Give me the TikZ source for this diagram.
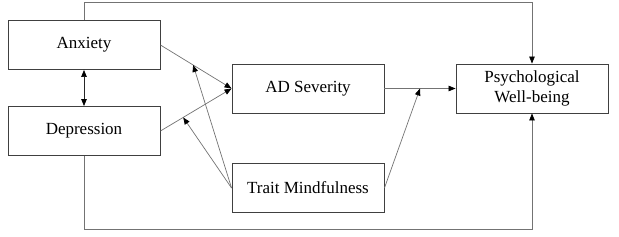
\documentclass[tikz,border=0pt]{standalone}
\usepackage{fontspec}
\setmainfont{Liberation Serif}
\usetikzlibrary{arrows.meta}

\begin{document}
\begin{tikzpicture}[
    x=1pt, y=-1pt,
    font=\fontsize{17}{20}\selectfont,
    >={Triangle[length=7pt,width=5.5pt,color=black]},
    box/.style={
        draw=black!75,
        line width=0.9pt,
        align=center,
        minimum width=152pt,
        minimum height=49pt,
        fill=white
    },
    link/.style={
        ->,
        draw=black!55,
        line width=0.7pt
    }
]

\useasboundingbox (0,0) rectangle (619,236);

\node[box] (anx) at (84,45) {Anxiety};
\node[box] (dep) at (84,131) {Depression};
\node[box] (ads) at (308,88.5) {AD Severity};
\node[box] (tm) at (308,188) {Trait Mindfulness};
\node[box] (pwb) at (532,88.5) {Psychological\\Well-being};

\coordinate (topline) at (0,2);
\coordinate (botline) at (0,229);

% moderation points on the paths
\path (anx.east) -- (ads.west) coordinate[pos=0.46] (m1);
\path (dep.east) -- (ads.west) coordinate[pos=0.32] (m2);
\path (ads.east) -- (pwb.west) coordinate[pos=0.5] (m3);

\draw[link, <->, draw=black!85] (anx) -- (dep);

\draw[link] (anx.east) -- (ads.west);
\draw[link] (dep.east) -- (ads.west);
\draw[link] (ads.east) -- (pwb.west);

\draw[link] (tm.west) -- (m1);
\draw[link] (tm.west) -- (m2);
\draw[link] (tm.east) -- (m3);

\draw[link] (anx.north) -- (anx.north |- topline) -| (pwb.north);
\draw[link] (dep.south) -- (dep.south |- botline) -| (pwb.south);

\end{tikzpicture}
\end{document}
